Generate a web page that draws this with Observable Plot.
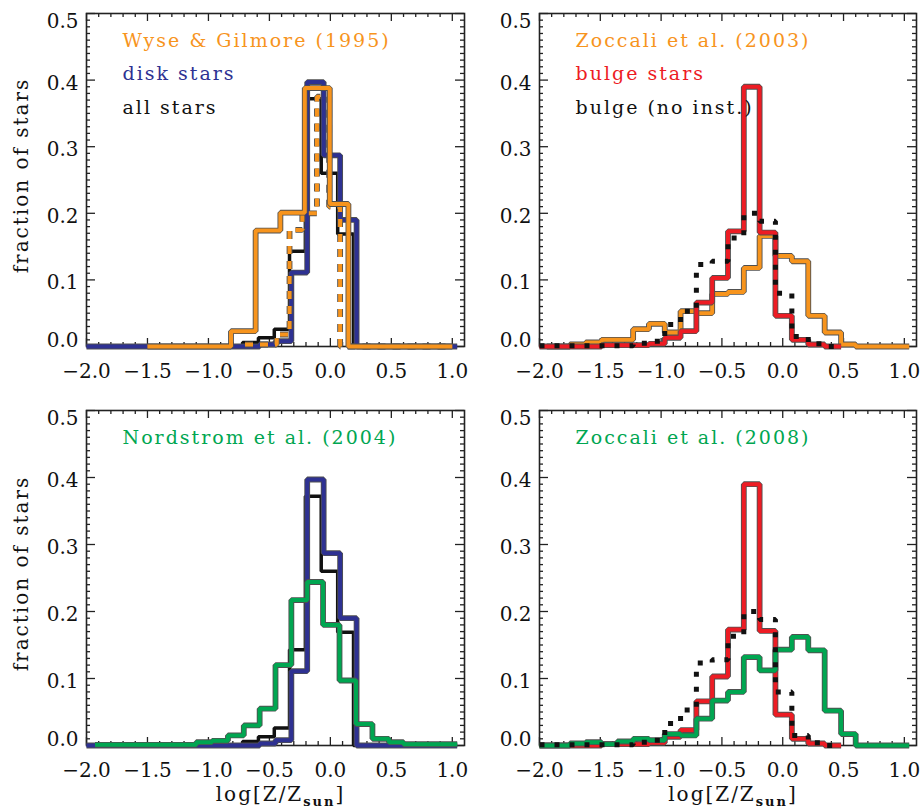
<!DOCTYPE html>
<html><head><meta charset="utf-8">
<script src="https://cdn.jsdelivr.net/npm/d3@7"></script>
<script src="https://cdn.jsdelivr.net/npm/@observablehq/plot@0.6"></script>
<style>
body{margin:0;background:#fff}
#fig{position:relative;width:922px;height:810px;overflow:hidden;background:#fff}
#fig > svg{position:absolute}
g[aria-label="text"] text{letter-spacing:2px}
</style></head><body><div id="fig"></div>
<script>
// ---------- tick values / labels ----------
const xMajor = [-2.0, -1.5, -1.0, -0.5, 0.0, 0.5, 1.0];
const xMinor = d3.range(-20, 11).map(i => i / 10).filter(v => Math.abs(v * 2 - Math.round(v * 2)) > 1e-6);
const yMajor = [0.0, 0.1, 0.2, 0.3, 0.4, 0.5];
const yLabelTop = [0.5];
const yLabelMid = [0.1, 0.2, 0.3, 0.4];
const yLabelBottom = [0.0];
const yMinor = d3.range(0, 51).map(i => i / 100).filter(v => Math.abs(v * 10 - Math.round(v * 10)) > 1e-6);
const yTitle = "fraction of stars";
const xTitle = "log[Z/Z_sun]";

// ---------- top-left: Wyse & Gilmore (1995) ----------
const wgEdges = [-1.5, -0.815, -0.613, -0.41, -0.21, -0.005, 0.148, 1.0];
const wgValues = [0, 0.023, 0.174, 0.201, 0.388, 0.214, 0];
const wgDashEdges = [-0.70, -0.44, -0.335, -0.23, -0.11, -0.01, 0.08, 1.0];
const wgDashValues = [0.003, 0.018, 0.175, 0.2, 0.375, 0.21, 0];

// disk stars (blue) and all stars (black)
const diskEdges = [-2.0, -0.58, -0.45, -0.32, -0.19, -0.055, 0.08, 0.215, 1.04];
const diskValues = [0, 0.003, 0.008, 0.111, 0.397, 0.287, 0.19, 0];
const allEdges = [-0.84, -0.72, -0.59, -0.46, -0.335, -0.205, -0.075, 0.06, 0.19, 1.0];
const allValues = [0, 0.006, 0.013, 0.026, 0.143, 0.372, 0.26, 0.169, 0];

// ---------- top-right: Zoccali et al. (2003) ----------
const z03Edges = [-1.94, -1.75, -1.62, -1.49, -1.36, -1.23, -1.10, -0.97, -0.84, -0.71, -0.58, -0.45, -0.32, -0.19, -0.06, 0.075, 0.21, 0.345, 0.48, 0.60, 1.04];
const z03Values = [0, 0.003, 0.006, 0.01, 0.01, 0.026, 0.034, 0.021, 0.053, 0.05, 0.079, 0.082, 0.118, 0.166, 0.136, 0.128, 0.046, 0.021, 0.003, 0];

// bulge stars (red) and bulge without instrumental errors (black dotted)
const bulgeEdges = [-2.0, -1.49, -1.10, -0.97, -0.84, -0.71, -0.58, -0.45, -0.32, -0.19, -0.06, 0.075, 0.21, 0.345, 0.48];
const bulgeValues = [0, 0.002, 0.004, 0.013, 0.023, 0.066, 0.103, 0.173, 0.39, 0.171, 0.046, 0.01, 0.003, 0];
const noInstEdges = [-2.0, -1.23, -1.10, -0.97, -0.84, -0.71, -0.58, -0.45, -0.32, -0.19, -0.06, 0.075, 0.21, 0.345, 0.48];
const noInstValues = [0.001, 0.005, 0.008, 0.033, 0.053, 0.123, 0.128, 0.163, 0.2, 0.188, 0.08, 0.015, 0.004, 0];

// ---------- bottom-left: Nordstrom et al. (2004) ----------
const n04Edges = [-1.93, -1.10, -0.97, -0.84, -0.71, -0.58, -0.45, -0.32, -0.19, -0.06, 0.075, 0.21, 0.345, 0.48, 0.60, 1.04];
const n04Values = [0.001, 0.005, 0.007, 0.015, 0.03, 0.055, 0.12, 0.217, 0.244, 0.18, 0.097, 0.032, 0.01, 0.005, 0.002];

// ---------- bottom-right: Zoccali et al. (2008) ----------
const z08Edges = [-2.0, -1.75, -1.62, -1.49, -1.36, -1.23, -1.10, -0.97, -0.84, -0.71, -0.58, -0.45, -0.32, -0.19, -0.06, 0.075, 0.21, 0.345, 0.48, 0.60, 1.04];
const z08Values = [0, 0.003, 0.005, 0.002, 0.006, 0.01, 0.008, 0.017, 0.015, 0.04, 0.067, 0.08, 0.132, 0.112, 0.143, 0.162, 0.142, 0.052, 0.017, 0];

// ---------- legends ----------
const tlLegend = ["Wyse & Gilmore (1995)", "disk stars", "all stars"];
const trLegend = ["Zoccali et al. (2003)", "bulge stars", "bulge (no inst.)"];
const blLegend = ["Nordstrom et al. (2004)"];
const brLegend = ["Zoccali et al. (2008)"];

const ORANGE = "#F7941D", BLUE = "#2E3192", RED = "#ED1C24", GREEN = "#00A651", BLACK = "#111";
const OUTLINE = "#505050";
const FONT = "DejaVu Serif";

function steps(edges, values) {
  const pts = values.map((v, i) => ({x: edges[i], y: v}));
  pts.push({x: edges[edges.length - 1], y: values[values.length - 1]});
  return pts;
}

const fig = document.getElementById("fig");
const fmt = d3.format(".1f");

function panel({left, top, width, height, ml, mr, mt, mb, layers, legend, legendColors, yLabel, xLabel}) {
  const pw = width - ml - mr, ph = height - mt - mb;
  const tickStyle = {stroke: "#222", strokeWidth: 1.3};
  const marks = [
    Plot.tickY(yMinor, {y: d => d, insetRight: pw - 4, ...tickStyle}),
    Plot.tickY(yMinor, {y: d => d, insetLeft: pw - 4, ...tickStyle}),
    Plot.tickY(yMajor, {y: d => d, insetRight: pw - 9, ...tickStyle}),
    Plot.tickY(yMajor, {y: d => d, insetLeft: pw - 9, ...tickStyle}),
    Plot.tickX(xMinor, {x: d => d, insetTop: ph - 4, ...tickStyle}),
    Plot.tickX(xMinor, {x: d => d, insetBottom: ph - 4, ...tickStyle}),
    Plot.tickX(xMajor, {x: d => d, insetTop: ph - 8, ...tickStyle}),
    Plot.tickX(xMajor, {x: d => d, insetBottom: ph - 8, ...tickStyle}),
    Plot.frame({stroke: "#222", strokeWidth: 1.6})
  ];
  for (const L of layers) {
    const pts = steps(L.edges, L.values);
    const common = {x: "x", y: "y", curve: "step-after", strokeLinejoin: "miter", strokeLinecap: "butt", strokeDasharray: L.dash};
    if (L.outline) marks.push(Plot.line(pts, {...common, stroke: OUTLINE, strokeWidth: L.width + 1.8}));
    marks.push(Plot.line(pts, {...common, stroke: L.color, strokeWidth: L.width}));
  }
  const axisText = {tickSize: 0, tickFormat: fmt, label: null, fontSize: 20, fontFamily: FONT};
  marks.push(Plot.axisX({ticks: xMajor, tickPadding: 17, ...axisText}));
  marks.push(Plot.axisY({ticks: yLabelTop, tickPadding: 8, dy: 8, ...axisText}));
  marks.push(Plot.axisY({ticks: yLabelMid, tickPadding: 8, dy: 3, ...axisText}));
  marks.push(Plot.axisY({ticks: yLabelBottom, tickPadding: 8, dy: -6, ...axisText}));
  legend.forEach((t, i) => {
    marks.push(Plot.text([t], {frameAnchor: "top-left", textAnchor: "start", lineAnchor: "middle", dx: 36, dy: 27 + i * 33.6, fill: legendColors[i], fontSize: 19, fontFamily: FONT}));
  });
  if (yLabel) marks.push(Plot.text([yLabel], {frameAnchor: "left", textAnchor: "middle", lineAnchor: "middle", rotate: -90, dx: 21 - ml, dy: -4.5, fill: "#111", fontSize: 20, fontFamily: FONT}));
  if (xLabel) marks.push(Plot.text([xLabel], {frameAnchor: "bottom", textAnchor: "middle", lineAnchor: "middle", dx: 5, dy: 48.6, fill: "#111", fontSize: 20, fontFamily: FONT}));
  const svg = Plot.plot({
    width, height, marginLeft: ml, marginRight: mr, marginTop: mt, marginBottom: mb,
    x: {domain: [-2, 1.1]}, y: {domain: [0, 0.5]},
    style: {fontFamily: FONT, fontSize: "20px", color: "#111", background: "transparent", overflow: "visible"},
    marks
  });
  svg.style.left = left + "px";
  svg.style.top = top + "px";
  // subscript in the x title
  d3.select(svg).selectAll("text").filter(function () { return this.textContent === xTitle; }).each(function () {
    const t = d3.select(this);
    t.text(null);
    t.append("tspan").text("log[Z/Z");
    t.append("tspan").text("sun").attr("font-size", 13).attr("font-weight", "bold").attr("dy", 6);
    t.append("tspan").text("]").attr("dy", -6);
  });
  fig.appendChild(svg);
}

const lw = 4;
panel({left: 0, top: 0, width: 470, height: 400, ml: 86, mr: 6, mt: 13, mb: 54,
  layers: [
    {edges: allEdges, values: allValues, color: BLACK, width: 3.5},
    {edges: diskEdges, values: diskValues, color: BLUE, width: lw, outline: true},
    {edges: wgDashEdges, values: wgDashValues, color: ORANGE, width: lw, outline: true, dash: "8,7"},
    {edges: wgEdges, values: wgValues, color: ORANGE, width: lw, outline: true}
  ],
  legend: tlLegend, legendColors: [ORANGE, BLUE, BLACK], yLabel: yTitle});

panel({left: 470, top: 0, width: 452, height: 400, ml: 69, mr: 6, mt: 13, mb: 54,
  layers: [
    {edges: z03Edges, values: z03Values, color: ORANGE, width: lw, outline: true},
    {edges: bulgeEdges, values: bulgeValues, color: RED, width: lw, outline: true},
    {edges: noInstEdges, values: noInstValues, color: BLACK, width: 5, dash: "5,10"}
  ],
  legend: trLegend, legendColors: [ORANGE, RED, BLACK]});

panel({left: 0, top: 400, width: 470, height: 410, ml: 86, mr: 6, mt: 10, mb: 65,
  layers: [
    {edges: allEdges, values: allValues, color: BLACK, width: 3.5},
    {edges: diskEdges, values: diskValues, color: BLUE, width: lw, outline: true},
    {edges: n04Edges, values: n04Values, color: GREEN, width: lw, outline: true}
  ],
  legend: blLegend, legendColors: [GREEN], yLabel: yTitle, xLabel: xTitle});

panel({left: 470, top: 400, width: 452, height: 410, ml: 69, mr: 6, mt: 10, mb: 65,
  layers: [
    {edges: bulgeEdges, values: bulgeValues, color: RED, width: lw, outline: true},
    {edges: z08Edges, values: z08Values, color: GREEN, width: lw, outline: true},
    {edges: noInstEdges, values: noInstValues, color: BLACK, width: 5, dash: "5,10"}
  ],
  legend: brLegend, legendColors: [GREEN], xLabel: xTitle});
</script></body></html>
